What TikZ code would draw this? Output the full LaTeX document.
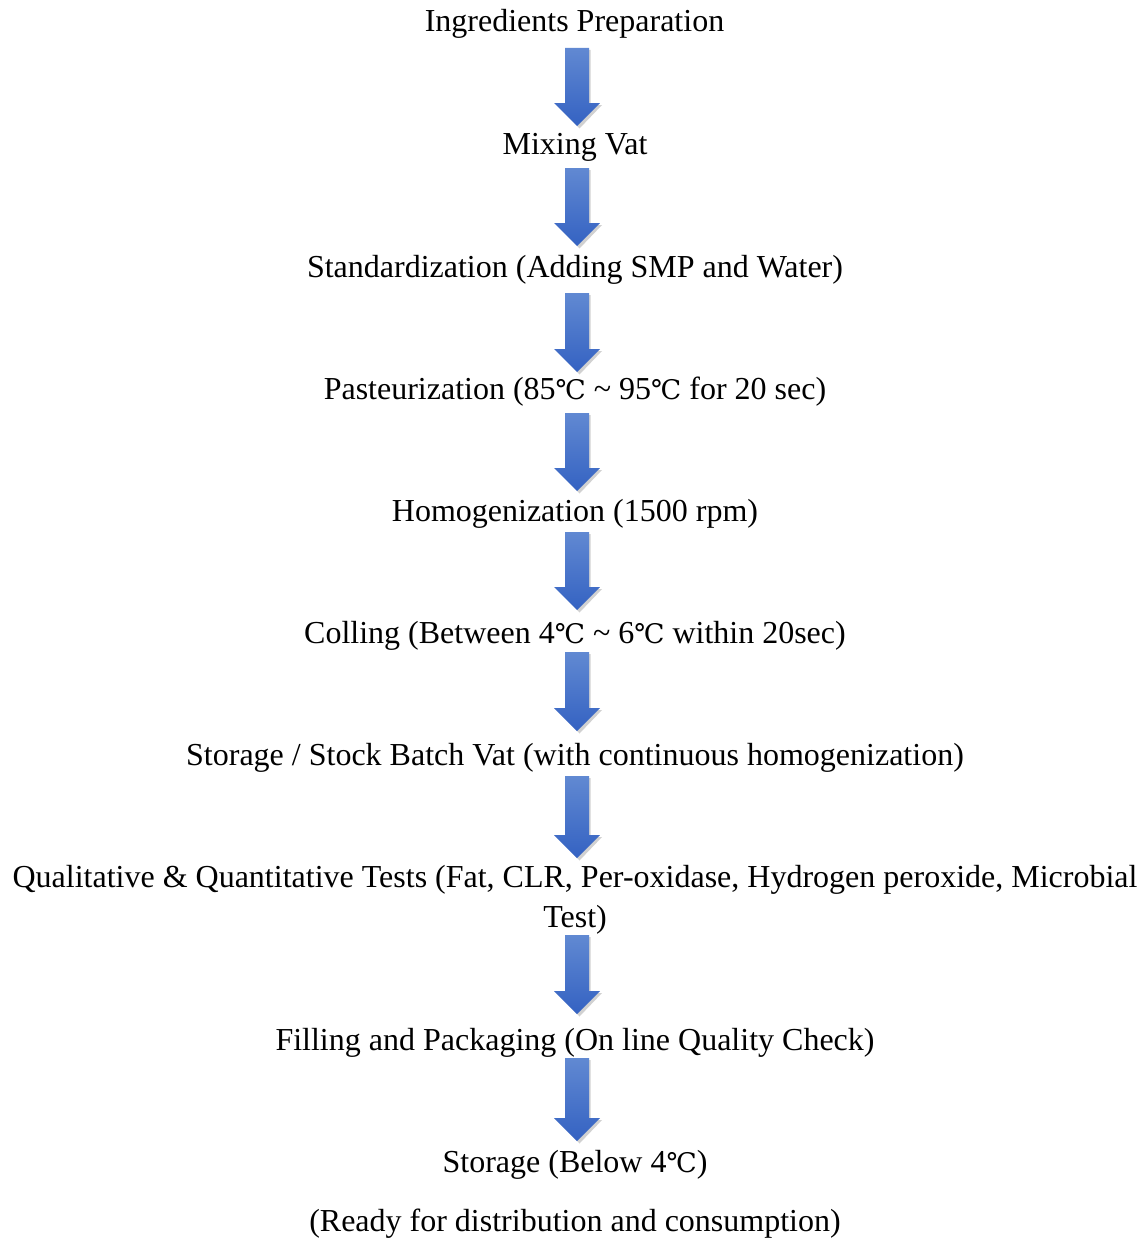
\documentclass[tikz,border=0pt]{standalone}
\usepackage{fontspec}
\setmainfont{Liberation Serif}
\newfontfamily\degfont{DejaVu Serif}
\newcommand{\degC}{{\degfont\fontsize{27}{30}\selectfont ℃}}
\usetikzlibrary{shadings}
\definecolor{arrtop}{HTML}{6189D2}
\definecolor{arrbot}{HTML}{3462C2}
\tikzset{
  lbl/.style={font=\fontsize{32}{36}\selectfont, inner sep=0pt, anchor=base},
  blockarrow/.style={top color=arrtop, bottom color=arrbot, draw=none},
  arrshadow/.style={fill=black, opacity=0.18, draw=none}
}
\newcommand{\flowarrow}[2]{%
  % #1 top y, #2 tip y
  \fill[arrshadow] (566.5,#1+2) -- (590.5,#1+2) -- (590.5,#2-21) -- (602,#2-21) -- (579.5,#2+2.5) -- (557,#2-21) -- (566.5,#2-21) -- cycle;
  \path[blockarrow] (565,#1) -- (589,#1) -- (589,#2-23) -- (600,#2-23) -- (577,#2) -- (554,#2-23) -- (565,#2-23) -- cycle;
}
\begin{document}
\begin{tikzpicture}[x=1pt,y=-1pt]
\useasboundingbox (0,0) rectangle (1147,1239);
\fill[white] (0,0) rectangle (1147,1239);
\node[lbl] (n1) at (574.5,32) {Ingredients Preparation};
\node[lbl] (n2) at (575,154) {Mixing Vat};
\node[lbl] (n3) at (575,277) {Standardization (Adding SMP and Water)};
\node[lbl] (n4) at (575,399) {Pasteurization (85\degC\ \textasciitilde\ 95\degC\ for 20 sec)};
\node[lbl] (n5) at (575,521) {Homogenization (1500 rpm)};
\node[lbl] (n6) at (575,643) {Colling (Between 4\degC\ \textasciitilde\ 6\degC\ within 20sec)};
\node[lbl] (n7) at (575,765) {Storage / Stock Batch Vat (with continuous homogenization)};
\node[lbl] (n8a) at (575,887) {Qualitative \& Quantitative Tests (Fat, CLR, Per-oxidase, Hydrogen peroxide, Microbial};
\node[lbl] (n8b) at (575,927) {Test)};
\node[lbl] (n9) at (575,1050) {Filling and Packaging (On line Quality Check)};
\node[lbl] (n10) at (575,1172) {Storage (Below 4\degC)};
\node[lbl] (n11) at (575,1231) {(Ready for distribution and consumption)};
\flowarrow{48}{126}
\flowarrow{168}{246}
\flowarrow{293}{372}
\flowarrow{413}{491}
\flowarrow{532}{610}
\flowarrow{652}{731}
\flowarrow{776}{858}
\flowarrow{935}{1014}
\flowarrow{1058}{1141}
\end{tikzpicture}
\end{document}
